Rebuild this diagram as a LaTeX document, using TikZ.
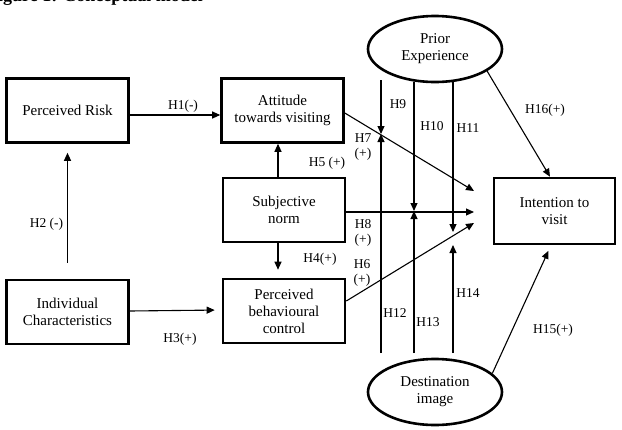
\documentclass[tikz,border=0pt]{standalone}
\usepackage{fontspec}
\setmainfont{Liberation Serif}
\usetikzlibrary{shapes.geometric,arrows.meta}
\tikzset{
  boxnode/.style={draw,line width=2.6pt,minimum width=122pt,minimum height=64pt,inner sep=0pt,align=center,font=\fontsize{15}{17}\selectfont},
  ovalnode/.style={draw,ellipse,line width=2.6pt,minimum width=134pt,minimum height=66pt,inner sep=0pt,align=center,font=\fontsize{15}{17}\selectfont},
  arr/.style={line width=1.1pt,-{Triangle[length=8pt,width=7pt]}},
  lbl/.style={font=\fontsize{13.5}{15}\selectfont,inner sep=0pt,align=center}
}
\begin{document}
\begin{tikzpicture}[x=1pt,y=-1pt]
\useasboundingbox (0,0) rectangle (622,429);
% title (cut off at the top)
\node[anchor=base west,inner sep=0pt,font=\fontsize{18}{20}\selectfont\bfseries] (title) at (-13,1) {Figure 1: Conceptual model};
% boxes
\node[boxnode] (PR) at (67.5,110.5) {Perceived Risk};
\node[boxnode] (Att) at (282.5,110.5) {Attitude\\towards visiting};
\node[boxnode] (SN) at (284,210) {Subjective\\norm};
\node[boxnode] (PBC) at (284,311) {Perceived\\behavioural\\control};
\node[boxnode] (IC) at (67.5,312) {Individual\\Characteristics};
\node[boxnode,minimum width=121pt,minimum height=66pt] (Int) at (554.5,211) {Intention to\\visit};
\node[ovalnode] (PE) at (435,49) {Prior\\Experience};
\node[ovalnode] (DI) at (435,392) {Destination\\image};
% free ends
\coordinate (tA) at (474,191);
\coordinate (tS) at (474,212);
\coordinate (tP) at (474,223);
\coordinate (a9) at (381,80);   \coordinate (x9) at (381,134);  \coordinate (b12) at (381,353);
\coordinate (a10) at (414,82);  \coordinate (x10) at (414,211); \coordinate (b13) at (414,353);
\coordinate (a11) at (453,82);  \coordinate (x11) at (453,232); \coordinate (y14) at (453,245); \coordinate (b14) at (453,353);
% main arrows
\draw[arr] ([yshift=-4.5pt]PR.east) -- ([yshift=-4.5pt]Att.west);
\draw[arr,shorten <=16pt,shorten >=9pt] (IC.north) -- (PR.south);
\draw[arr,shorten >=7pt] ([yshift=1pt]IC.east) -- ([yshift=1pt]PBC.west);
\draw[arr,shorten >=8pt] ([xshift=-6pt]SN.south) -- ([xshift=-6pt]PBC.north);
\draw[arr] ([xshift=-6pt]SN.north) -- ([xshift=-4.5pt]Att.south);
\draw[arr] ([yshift=-2.5pt]Att.east) -- (tA);
\draw[arr] ([yshift=-2pt]SN.east) -- (tS);
\draw[arr] ([yshift=10pt]PBC.east) -- (tP);
\draw[arr] (PE.-23) -- ([xshift=-4.5pt]Int.north);
\draw[arr,shorten >=6pt] (DI.18) -- ([xshift=-3.5pt]Int.south);
% moderating arrows
\draw[arr] (a9) -- (x9);
\draw[arr] (b12) -- (x9);
\draw[arr] (a10) -- (x10);
\draw[arr] (b13) -- (x10);
\draw[arr] (a11) -- (x11);
\draw[arr] (b14) -- (y14);
% labels
\node[lbl] (l1) at (183,106) {H1(-)};
\node[lbl] (l2) at (46.5,224) {H2 (-)};
\node[lbl] (l3) at (180,339) {H3(+)};
\node[lbl] (l4) at (320,259) {H4(+)};
\node[lbl] (l5) at (327,163) {H5 (+)};
\node[lbl] (l7) at (363,147) {H7\\(+)};
\node[lbl] (l8) at (363,233) {H8\\(+)};
\node[lbl] (l6) at (362,273) {H6\\(+)};
\node[lbl] (l9) at (398,104) {H9};
\node[lbl] (l10) at (432,126) {H10};
\node[lbl] (l11) at (468,128) {H11};
\node[lbl] (l12) at (395,313) {H12};
\node[lbl] (l13) at (428,322) {H13};
\node[lbl] (l14) at (468,293) {H14};
\node[lbl] (l15) at (553,330) {H15(+)};
\node[lbl] (l16) at (545,110) {H16(+)};
\end{tikzpicture}
\end{document}
